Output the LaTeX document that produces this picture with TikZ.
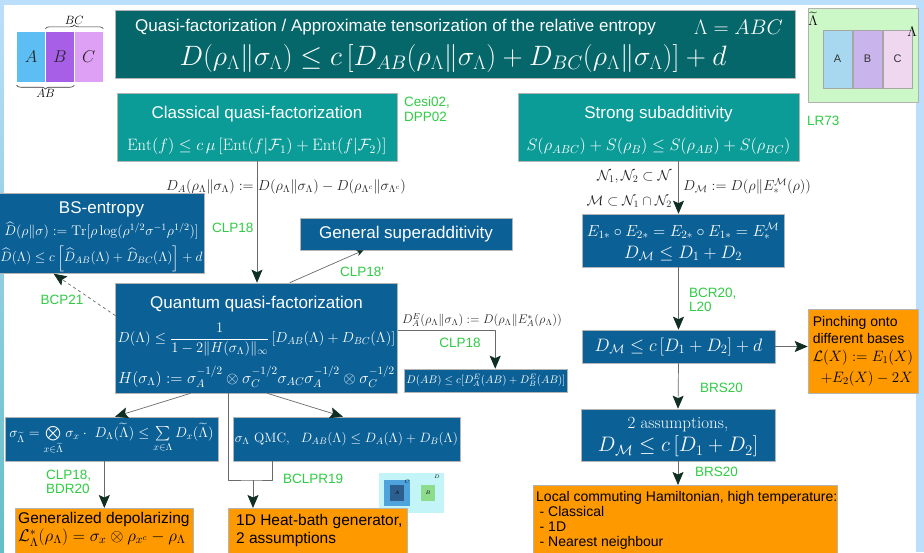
\RequirePackage{fix-cm}
\documentclass[tikz,border=0pt]{standalone}
\usepackage{amsmath}
\usepackage{fontspec}
\newfontfamily\arial{Liberation Sans}
\usetikzlibrary{arrows.meta,positioning,decorations.pathreplacing}

\definecolor{bgblue}{HTML}{BBDEFB}
\definecolor{bgteal}{HTML}{62BFC6}
\definecolor{titleteal}{HTML}{05676A}
\definecolor{teal1}{HTML}{0C9C98}
\definecolor{blue1}{HTML}{0B6096}
\definecolor{orange1}{HTML}{FF9900}
\definecolor{refgreen}{HTML}{2FCC44}
\definecolor{linegray}{HTML}{6A6A6A}
\definecolor{headgreen}{HTML}{0F2F22}
\definecolor{boxline}{HTML}{B4B4B4}
\definecolor{cellA}{HTML}{5CBEF2}
\definecolor{cellB}{HTML}{A65FE6}
\definecolor{cellC}{HTML}{DDA0F5}
\definecolor{lgreen}{HTML}{CCF7C6}
\definecolor{sA}{HTML}{A8D8F0}
\definecolor{sB}{HTML}{C9B5EB}
\definecolor{sC}{HTML}{EFD7EF}
\definecolor{lcyan}{HTML}{C2F4F8}
\definecolor{mblue}{HTML}{4FA3DC}
\definecolor{mdark}{HTML}{2D5F8E}
\definecolor{mgreen}{HTML}{8CDC8C}

\newcommand{\fsz}[1]{\fontsize{#1}{#1}\selectfont}

\tikzset{
  box/.style={draw=boxline,line width=0.6pt,align=center,inner sep=2pt},
  tealbox/.style={box,fill=teal1,text=white},
  bluebox/.style={box,fill=blue1,text=white},
  orangebox/.style={box,fill=orange1,text=black},
  orangetext/.style={inner sep=0pt,align=left,text=black,font=\arial\fontsize{14}{15}\selectfont},
  ref/.style={inner sep=0pt,align=left,text=refgreen,font=\arial\fontsize{13.5}{14.5}\selectfont},
  lbl/.style={inner sep=0pt,text=black!85},
  cell/.style={inner sep=0pt,minimum width=28.5,minimum height=50,text=black!85,font=\fsz{17}},
  smallcell/.style={draw=gray!70,line width=0.5pt,inner sep=0pt,minimum width=29.5,minimum height=58,text=black!80,font=\arial\fsz{11}},
  conn/.style={draw=linegray,line width=0.7pt},
  arr/.style={conn,-{Stealth[length=13pt,width=11pt,inset=2.5pt,color=headgreen]}},
  bracket/.style={decorate,decoration={brace,amplitude=4pt},line width=0.6pt,draw=black!80}
}

\begin{document}
\begin{tikzpicture}[x=1pt,y=-1pt,line join=round]
\useasboundingbox (0,0) rectangle (924,552);
\clip (0,0) rectangle (924,552);
\fill[bgblue] (0,0) rectangle (924,552);
\shade[top color=bgblue,bottom color=bgteal] (0,5) rectangle (4,552);
\fill[white] (4,5) rectangle (916,552);

\node[cell,fill=cellA] (iconA) at (31,57) {$A$};
\node[cell,fill=cellB,right=0pt of iconA] (iconB) {$B$};
\node[cell,fill=cellC,right=0pt of iconB] (iconC) {$C$};
\draw[bracket] ([yshift=3pt]iconB.north west) -- ([yshift=3pt]iconC.north east) node[midway,above=4pt,inner sep=0pt,font=\fsz{12}] (bclabel) {$BC$};
\draw[bracket] ([yshift=-3pt]iconB.south east) -- ([yshift=-3pt]iconA.south west) node[midway,below=4pt,inner sep=0pt,font=\fsz{12}] (ablabel) {$AB$};

\node[box,fill=titleteal,minimum width=680,minimum height=68] (titlebox) at (455,44) {};
\node[anchor=west,inner sep=0pt,text=white,font=\arial\fsz{17}] (titletext) at (135,27) {Quasi-factorization / Approximate tensorization of the relative entropy};
\node[anchor=east,inner sep=0pt,text=white,font=\fsz{21}] (titlelam) at (783,27) {$\Lambda = ABC$};
\node[inner sep=0pt,text=white,font=\fsz{28}] (titleform) at (453,58) {$D(\rho_\Lambda\|\sigma_\Lambda)\le c\,[D_{AB}(\rho_\Lambda\|\sigma_\Lambda)+D_{BC}(\rho_\Lambda\|\sigma_\Lambda)]+d$};

\node[draw=gray!60,line width=0.5pt,fill=lgreen,minimum width=110,minimum height=94] (bigregion) at (863,55) {};
\node[smallcell,fill=sA] (smallA) at (837.5,59) {A};
\node[smallcell,fill=sB,right=0pt of smallA] (smallB) {B};
\node[smallcell,fill=sC,right=0pt of smallB] (smallC) {C};
\node[inner sep=0pt,font=\fsz{14}] (tildelam) at (813,19) {$\widetilde\Lambda$};
\node[inner sep=0pt,font=\fsz{14}] (innerlam) at (912,32) {$\Lambda$};

\node[tealbox,minimum width=280,minimum height=68] (classical) at (257,127) {\arial\fsz{17}\rule{0pt}{20pt}Classical quasi-factorization\\[15pt]\fsz{16.5}$\mathrm{Ent}(f)\le c\,\mu\,[\mathrm{Ent}(f|\mathcal{F}_1)+\mathrm{Ent}(f|\mathcal{F}_2)]$};
\node[ref,anchor=north west] (cesiref) at (404,97) {Cesi02,\\DPP02};

\node[tealbox,minimum width=281,minimum height=68] (ssa) at (658.5,127) {\arial\fsz{17}\rule{0pt}{20pt}Strong subadditivity\\[15pt]\fsz{16.5}$S(\rho_{ABC})+S(\rho_B)\le S(\rho_{AB})+S(\rho_{BC})$};
\node[ref,anchor=west] (lrref) at (807,121) {LR73};

\node[lbl,font=\fsz{14.5}] (dalabel) at (286,187) {$D_A(\rho_\Lambda\|\sigma_\Lambda):=D(\rho_\Lambda\|\sigma_\Lambda)-D(\rho_{\Lambda^c}\|\sigma_{\Lambda^c})$};

\node[bluebox,minimum width=193,minimum height=77] (bsent) at (101.5,233.5) {\arial\fsz{17}\rule{0pt}{18pt}BS-entropy\\[4pt]\fsz{14}$\widehat{D}(\rho\|\sigma):=\mathrm{Tr}[\rho\log(\rho^{1/2}\sigma^{-1}\rho^{1/2})]$\\[5pt]\fsz{13.5}$\widehat{D}(\Lambda)\le c\left[\widehat{D}_{AB}(\Lambda)+\widehat{D}_{BC}(\Lambda)\right]+d$};
\node[ref,anchor=west] (clpa) at (212,228) {CLP18};

\node[bluebox,minimum width=212,minimum height=32,font=\arial\fsz{17}] (gensup) at (406,234) {General superadditivity};
\node[ref] (clpb) at (362,272) {CLP18'};

\node[bluebox,minimum width=281,minimum height=110] (quantum) at (256.5,338) {\arial\fsz{17}\rule{0pt}{20pt}Quantum quasi-factorization\\[11pt]\fsz{14.5}$\displaystyle D(\Lambda)\le\frac{1}{1-2\|H(\sigma_\Lambda)\|_\infty}\,[D_{AB}(\Lambda)+D_{BC}(\Lambda)]$\\[9pt]\fsz{16}$H(\sigma_\Lambda):=\sigma_A^{-1/2}\otimes\sigma_C^{-1/2}\sigma_{AC}\sigma_A^{-1/2}\otimes\sigma_C^{-1/2}$};
\node[ref] (bcpref) at (62,300) {BCP21};

\node[lbl,font=\fsz{12.5}] (delabel) at (482,320) {$D_A^E(\rho_\Lambda\|\sigma_\Lambda):=D(\rho_\Lambda\|E_A^*(\rho_\Lambda))$};
\node[ref] (clpc) at (460,343) {CLP18};
\node[bluebox,minimum width=158,minimum height=23,font=\fsz{11}] (dab) at (486,380.5) {$D(AB)\le c[D_A^E(AB)+D_B^E(AB)]$};

\node[bluebox,minimum width=213,minimum height=44,inner sep=1pt,font=\fsz{14.3}] (sigbox) at (111.5,439) {$\sigma_{\widetilde\Lambda}=\bigotimes\limits_{x\in\widetilde\Lambda}\sigma_x\cdot\ D_\Lambda(\widetilde\Lambda)\le\sum\limits_{x\in\Lambda}D_x(\widetilde\Lambda)$};
\node[bluebox,minimum width=227,minimum height=44,font=\fsz{13.5}] (qmc) at (346.5,439) {$\sigma_\Lambda\ \mathrm{QMC},\ \ D_{AB}(\Lambda)\le D_A(\Lambda)+D_B(\Lambda)$};
\node[ref,anchor=west] (clpd) at (46,482) {CLP18,\\BDR20};
\node[ref,anchor=west] (bclpr) at (283,479) {BCLPR19};

\node[fill=lcyan,inner sep=0pt,minimum width=65,minimum height=40] (miniicon) at (411.5,493) {};
\node[fill=mblue,inner sep=0pt,minimum width=26,minimum height=26] (minic) at (397,493) {};
\node[fill=mdark,inner sep=0pt,minimum width=14,minimum height=16,font=\fsz{5}] (minia) at (397,493) {$A$};
\node[fill=mgreen,inner sep=0pt,minimum width=14,minimum height=16,font=\fsz{5}] (minib) at (428,493) {$B$};
\node[inner sep=0pt,font=\fsz{5}] (minilc) at (407,482) {$C$};
\node[inner sep=0pt,font=\fsz{5}] (minild) at (437,477) {$D$};

\node[orangebox,anchor=north west,minimum width=178,minimum height=56] (depol) at (15,508) {};
\node[orangetext,anchor=north west,font=\arial\fsz{15.5}] (depoltext) at (18,512) {Generalized depolarizing\\[1pt]\fsz{17}$\mathcal{L}_\Lambda^*(\rho_\Lambda)=\sigma_x\otimes\rho_{x^c}-\rho_\Lambda$};
\node[orangebox,anchor=north west,minimum width=179,minimum height=56] (heat) at (228,508) {};
\node[orangetext,anchor=north west,font=\arial\fontsize{15.5}{18}\selectfont] (heattext) at (236,514) {1D Heat-bath generator,\\2 assumptions};

\node[lbl,anchor=east,font=\fsz{14.5}] (nlabel) at (672,177) {$\mathcal{N}_1,\mathcal{N}_2\subset\mathcal{N}$};
\node[lbl,anchor=east,font=\fsz{14}] (mlabel) at (672,202) {$\mathcal{M}\subset\mathcal{N}_1\cap\mathcal{N}_2$};
\node[lbl,anchor=west,font=\fsz{14.5}] (dmlabel) at (683,186) {$D_{\mathcal{M}}:=D(\rho\|E_*^{\mathcal{M}}(\rho))$};

\node[bluebox,minimum width=202,minimum height=53] (ebox) at (683,240.5) {\fsz{16}\rule{0pt}{16pt}$E_{1*}\circ E_{2*}=E_{2*}\circ E_{1*}=E_*^{\mathcal{M}}$\\[5pt]\fsz{18}$D_{\mathcal{M}}\le D_1+D_2$};
\node[ref,anchor=west] (bcrref) at (689,300) {BCR20,\\L20};
\node[bluebox,minimum width=193,minimum height=33,font=\fsz{18}] (dmbox) at (678.5,346.5) {$D_{\mathcal{M}}\le c\,[D_1+D_2]+d$};
\node[orangebox,minimum width=110,minimum height=84,align=left,font=\arial\fontsize{14}{16}\selectfont] (pinch) at (863,351) {Pinching onto\\[1pt]different bases\\[2pt]\fsz{15}$\mathcal{L}(X):=E_1(X)$\\[5pt]\fsz{15}\hspace*{8pt}$+E_2(X)-2X$};
\node[ref,anchor=west] (brsa) at (700,388) {BRS20};
\node[bluebox,minimum width=194,minimum height=52] (twobox) at (678,435) {\fsz{17}\rule{0pt}{16pt}2 assumptions,\\[3pt]\fsz{21}$D_{\mathcal{M}}\le c\,[D_1+D_2]$};
\node[ref,anchor=west] (brsb) at (695,472) {BRS20};
\node[orangebox,anchor=north west,minimum width=304,minimum height=80] (lcham) at (533,485) {};
\node[orangetext,anchor=north west] (lchamtext) at (536,491) {Local commuting Hamiltonian, high temperature:\\\hspace*{3.5pt}- Classical\\\hspace*{3.5pt}- 1D\\\hspace*{3.5pt}- Nearest neighbour};

\draw[arr] (classical.south) -- (classical.south |- quantum.north);
\draw[arr,dashed] (quantum.171) -- (bsent.220);
\draw[conn,-{Stealth[length=7pt,width=6pt,color=headgreen]}] (quantum.59) -- (gensup.201);
\draw[arr] (quantum.3) -| (dab.52);
\draw[arr] (quantum.220) -- (sigbox.81);
\draw[arr] (quantum.281) -- (qmc.99);
\coordinate (merge) at (253,480);
\coordinate (qmcfoot) at (272,461);
\draw[conn] (quantum.south -| heat.west) |- (merge) -| (qmcfoot);
\draw[arr] (merge) -- (merge |- heat.north);
\draw[arr] (sigbox.south -| depol.north) -- (depol.north);
\draw[arr] (ssa.south -| dmbox.north) -- (ebox.north -| dmbox.north);
\draw[arr] (ebox.south -| dmbox.north) -- (dmbox.north);
\draw[arr] (dmbox.east) -- (dmbox.east -| pinch.west);
\draw[arr] (dmbox.south) -- (twobox.north);
\draw[arr] (twobox.south) -- (twobox.south |- lcham.north);
\end{tikzpicture}
\end{document}
